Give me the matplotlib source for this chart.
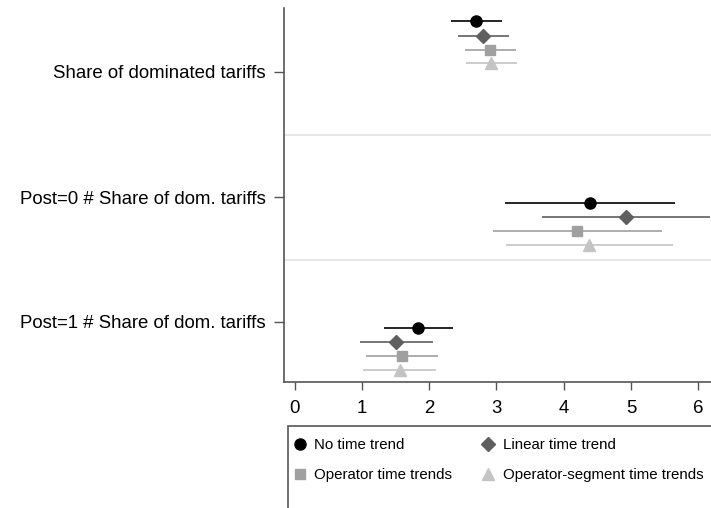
import numpy as np
import matplotlib.pyplot as plt
from matplotlib.lines import Line2D
from matplotlib.patches import Rectangle

plt.rcParams['font.family'] = ['Liberation Sans', 'DejaVu Sans']

categories = ['Share of dominated tariffs', 'Post=0 # Share of dom. tariffs',
              'Post=1 # Share of dom. tariffs']
series = ['No time trend', 'Linear time trend', 'Operator time trends',
          'Operator-segment time trends']

# point estimates and CI bounds, rows = series, cols = categories
est = np.array([[2.70, 4.39, 1.84],
                [2.80, 4.92, 1.51],
                [2.91, 4.20, 1.60],
                [2.92, 4.38, 1.56]])
lo = np.array([[2.32, 3.12, 1.33],
               [2.43, 3.68, 0.97],
               [2.53, 2.95, 1.06],
               [2.54, 3.14, 1.02]])
hi = np.array([[3.08, 5.66, 2.35],
               [3.19, 6.17, 2.06],
               [3.29, 5.46, 2.13],
               [3.30, 5.63, 2.10]])

# vertical offsets of each series within a category row
offsets = np.array([[-0.41, 0.045, 0.045],
                    [-0.29, 0.16, 0.16],
                    [-0.18, 0.27, 0.27],
                    [-0.07, 0.38, 0.38]])

colors = ['#000000', '#5f5f5f', '#a0a0a0', '#c4c4c4']
markers = ['o', 'D', 's', '^']
msizes = [8, 7, 7.5, 8]

fig = plt.figure(figsize=(7.11, 5.08), dpi=100)
ax = fig.add_axes([284 / 711, 1 - 382 / 508, 1 - 284 / 711, (382 - 8) / 508])

ypos = np.arange(1, len(categories) + 1)
for sep in ypos[:-1] + 0.5:
    ax.axhline(sep, color='#e3e3e3', lw=1.2, zorder=0)

for i in range(len(series)):
    y = ypos + offsets[i]
    ax.hlines(y, lo[i], hi[i], color=colors[i], lw=1.2, zorder=2)
    ax.plot(est[i], y, linestyle='none', marker=markers[i], color=colors[i],
            markersize=msizes[i], zorder=3)

ax.set_ylim(3.48, 0.488)
ax.set_xlim(-0.16, 6.19)
ax.set_yticks(ypos)
ax.set_yticklabels(categories, fontsize=13.4)
ax.set_xticks(np.arange(0, 7))
ax.tick_params(axis='x', labelsize=13.4, length=6, width=1, color='#555555', pad=7)
ax.tick_params(axis='y', length=7, width=1, color='#555555', pad=6)
for s in ['top', 'right']:
    ax.spines[s].set_visible(False)
for s in ['left', 'bottom']:
    ax.spines[s].set_color('#555555')
    ax.spines[s].set_linewidth(1.2)

# legend box running off the right/bottom edges
fig.patches.append(Rectangle((288 / 711, -0.05), 1.0, 0.05 + (508 - 426) / 508,
                             transform=fig.transFigure, fill=False,
                             edgecolor='#555555', lw=1.2))
handles = [Line2D([], [], linestyle='none', marker=markers[i], color=colors[i],
                  markersize=msizes[i]) for i in range(len(series))]
order = [0, 2, 1, 3]  # fill rows first, like the reference
fig.legend([handles[k] for k in order], [series[k] for k in order], ncol=2,
           frameon=False, fontsize=10.8,
           loc='upper left', bbox_to_anchor=(289 / 711, 1 - 435 / 508),
           handlelength=1.0, handletextpad=0.5, columnspacing=1.85,
           labelspacing=1.1, borderaxespad=0, borderpad=0.2)

fig.savefig('out.png', dpi=100)
